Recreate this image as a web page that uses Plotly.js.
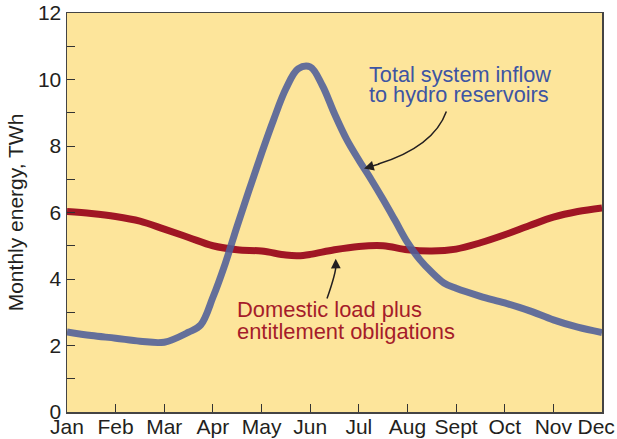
<!DOCTYPE html>
<html>
<head>
<meta charset="utf-8">
<script src="https://cdn.plot.ly/plotly-3.0.1.min.js"></script>
<style>html,body{margin:0;padding:0;background:#fff;}#chart{width:617px;height:439px;}</style>
</head>
<body>
<div id="chart"></div>
<script>
// Month tick labels (positions 0..11); last label padded so it stays inside the page
const monthPos = [0,1,2,3,4,5,6,7,8,9,10,11];
const monthLabels = ["Jan","Feb","Mar","Apr","May","Jun","Jul","Aug","Sept","Oct","Nov","Dec\u00a0\u00a0"];
// Y ticks
const yTickVals = [0,1,2,3,4,5,6,7,8,9,10,11,12];
const yTickText = ["0","","2","","4","","6","","8","","10","","12"];

// Total system inflow to hydro reservoirs (TWh)
const inflowX = [0,0.5,1,1.5,2,2.5,2.75,3,3.25,3.5,3.75,4,4.25,4.5,4.75,5,5.25,5.5,5.75,6,6.25,6.5,6.75,7,7.25,7.5,7.75,8,8.5,9,9.5,10,10.5,11];
const inflowY = [2.41,2.30,2.22,2.13,2.10,2.40,2.62,3.45,4.45,5.6,6.7,7.78,8.8,9.72,10.32,10.38,9.82,8.97,8.2,7.58,7.0,6.39,5.75,5.1,4.59,4.2,3.88,3.72,3.48,3.28,3.05,2.77,2.55,2.39];

// Domestic load plus entitlement obligations (TWh)
const loadX = [0,0.5,1,1.5,2,2.5,3,3.5,4,4.5,4.75,5,5.5,6,6.5,7,7.5,8,8.5,9,9.5,10,10.5,11];
const loadY = [6.03,5.97,5.88,5.74,5.5,5.25,5.0,4.88,4.84,4.72,4.70,4.74,4.88,4.98,5.0,4.88,4.84,4.9,5.09,5.33,5.6,5.86,6.03,6.14];

const FONT = '"Liberation Sans", Arial, Helvetica, sans-serif';
const BLUE_TXT = '#3d55a3';
const RED_TXT = '#a51c2a';
const INK = '#231f20';

const traces = [
  {x: loadX, y: loadY, type: 'scatter', mode: 'lines',
   line: {color: '#a01624', width: 7, shape: 'spline', smoothing: 1}, hoverinfo: 'skip'},
  {x: inflowX, y: inflowY, type: 'scatter', mode: 'lines', opacity: 0.88,
   line: {color: '#4f5f9a', width: 7, shape: 'spline', smoothing: 1}, hoverinfo: 'skip'}
];

const layout = {
  width: 617, height: 439,
  margin: {l: 67, r: 15, t: 13, b: 27, pad: 0},
  paper_bgcolor: '#ffffff',
  plot_bgcolor: '#fde59b',
  showlegend: false,
  font: {family: FONT, color: INK, size: 21},
  xaxis: {
    range: [0, 11], tickvals: monthPos, ticktext: monthLabels,
    ticks: 'inside', ticklen: 8, tickwidth: 1, tickcolor: '#333',
    showline: true, linecolor: '#444', linewidth: 1.5, mirror: true,
    showgrid: false, zeroline: false, tickfont: {size: 21, color: INK},
    ticklabeloverflow: 'allow', ticklabelstandoff: -5,
    fixedrange: true
  },
  yaxis: {
    range: [0, 12], tickvals: yTickVals, ticktext: yTickText,
    ticks: 'inside', ticklen: 8, tickwidth: 1, tickcolor: '#333',
    showline: true, linecolor: '#444', linewidth: 1.5, mirror: true,
    showgrid: false, zeroline: false, tickfont: {size: 21, color: INK},
    ticklabeloverflow: 'allow',
    title: {text: 'Monthly energy, TWh', font: {size: 21, color: INK}, standoff: 8},
    fixedrange: true
  },
  shapes: [
    {type: 'path', xref: 'x', yref: 'y', path: 'M 7.80 9.04 Q 7.54 7.98 6.40 7.46',
     line: {color: INK, width: 1.5}},
    {type: 'path', xref: 'x', yref: 'y', path: 'M 5.346 3.411 Q 5.535 4.21 5.527 4.40',
     line: {color: INK, width: 1.5}}
  ],
  annotations: [
    {x: 6.107, y: 7.323, ax: 6.45, ay: 7.47, axref: 'x', ayref: 'y', xref: 'x', yref: 'y',
     text: '', showarrow: true, arrowhead: 2, arrowsize: 1.3, arrowwidth: 1.5, arrowcolor: INK, standoff: 0},
    {x: 5.525, y: 4.611, ax: 5.527, ay: 4.38, axref: 'x', ayref: 'y', xref: 'x', yref: 'y',
     text: '', showarrow: true, arrowhead: 2, arrowsize: 1.3, arrowwidth: 1.5, arrowcolor: INK, standoff: 0},
    {x: 6.17, y: 10.156, xref: 'x', yref: 'y', xanchor: 'left', yanchor: 'middle',
     text: 'Total system inflow', showarrow: false, font: {size: 21.7, color: BLUE_TXT}},
    {x: 6.17, y: 9.54, xref: 'x', yref: 'y', xanchor: 'left', yanchor: 'middle',
     text: 'to hydro reservoirs', showarrow: false, font: {size: 21.7, color: BLUE_TXT}},
    {x: 3.455, y: 3.075, xref: 'x', yref: 'y', xanchor: 'left', yanchor: 'middle',
     text: 'Domestic load plus', showarrow: false, font: {size: 21.9, color: RED_TXT}},
    {x: 3.455, y: 2.43, xref: 'x', yref: 'y', xanchor: 'left', yanchor: 'middle',
     text: 'entitlement obligations', showarrow: false, font: {size: 21.9, color: RED_TXT}}
  ]
};

Plotly.newPlot('chart', traces, layout, {staticPlot: true, displayModeBar: false});
</script>
</body>
</html>
